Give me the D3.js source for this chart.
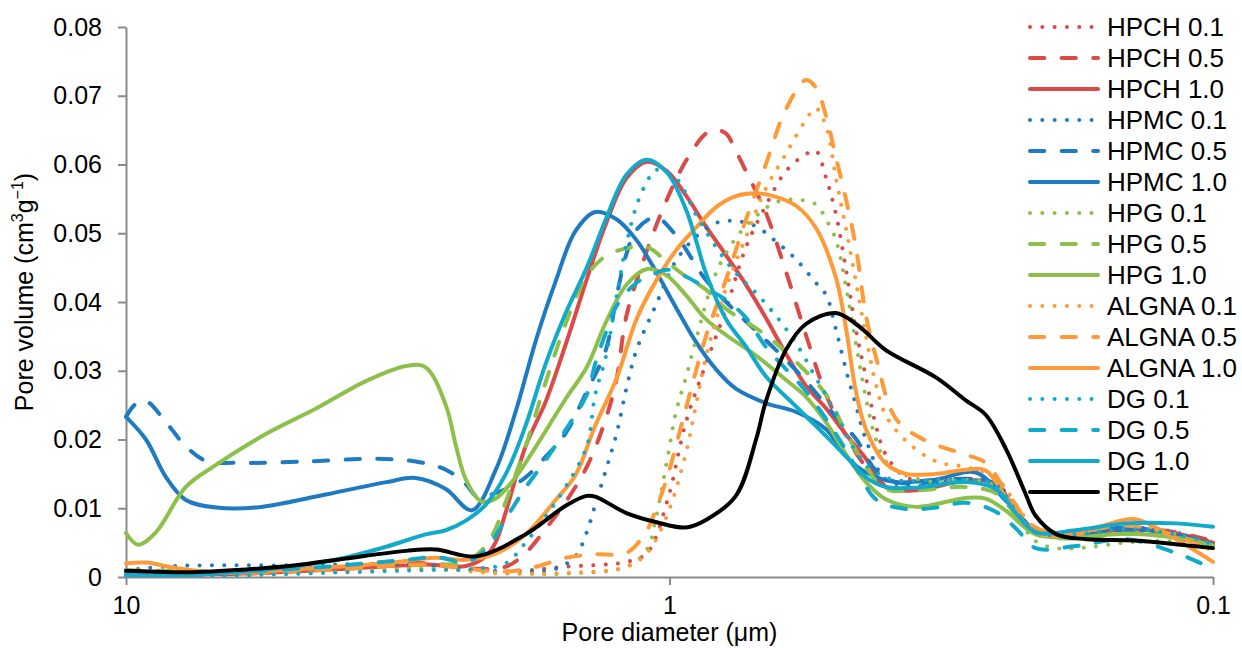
<!DOCTYPE html>
<html>
<head>
<meta charset="utf-8">
<script src="https://cdn.jsdelivr.net/npm/d3@7"></script>
<style>
  body { margin: 0; background: #fff; }
  text { font-family: "Liberation Sans", Arial, sans-serif; fill: #000; }
</style>
</head>
<body>
<div class="chart"></div>
<script>
	// data: [pore diameter (um), pore volume (cm3/g)]
	var seriesNames = ["HPCH 0.1", "HPCH 0.5", "HPCH 1.0", "HPMC 0.1", "HPMC 0.5", "HPMC 1.0",
		"HPG 0.1", "HPG 0.5", "HPG 1.0", "ALGNA 0.1", "ALGNA 0.5", "ALGNA 1.0",
		"DG 0.1", "DG 0.5", "DG 1.0", "REF"];
	var xTicks = [10, 1, 0.1];
	var yTicks = [0, 0.01, 0.02, 0.03, 0.04, 0.05, 0.06, 0.07, 0.08];

	var hpch01 = [[10,0.0005],[6.01,0.0008],[3.94,0.0012],[2.81,0.0015],[2.00,0.0008],[1.55,0.0015],[1.20,0.0022],[1.10,0.0035],[1.01,0.011],[0.933,0.0225],[0.857,0.031],[0.787,0.039],[0.723,0.048],[0.665,0.054],[0.611,0.059],[0.561,0.0615],[0.538,0.062],[0.515,0.058],[0.494,0.0528],[0.473,0.0445],[0.454,0.036],[0.435,0.029],[0.417,0.022],[0.400,0.0178],[0.367,0.0145],[0.323,0.014],[0.285,0.0143],[0.251,0.0138],[0.230,0.0098],[0.212,0.0068],[0.179,0.006],[0.145,0.0072],[0.117,0.0065],[0.1,0.005]];
	var hpch05 = [[10,0.0003],[6.01,0.0005],[3.94,0.0015],[2.81,0.002],[2.27,0.0012],[2.00,0.0015],[1.84,0.0035],[1.69,0.007],[1.55,0.011],[1.42,0.016],[1.31,0.023],[1.25,0.029],[1.20,0.038],[1.10,0.0475],[1.01,0.055],[0.933,0.0605],[0.857,0.0645],[0.821,0.065],[0.787,0.0645],[0.755,0.062],[0.723,0.059],[0.665,0.053],[0.611,0.0445],[0.561,0.0352],[0.515,0.0265],[0.473,0.0205],[0.435,0.016],[0.400,0.0133],[0.352,0.0128],[0.285,0.014],[0.251,0.0135],[0.230,0.0095],[0.212,0.0068],[0.179,0.006],[0.145,0.007],[0.117,0.0065],[0.1,0.0052]];
	var hpch10 = [[10,0.0003],[6.01,0.0005],[3.94,0.0012],[2.81,0.0018],[2.37,0.0016],[2.18,0.003],[2.09,0.005],[2.00,0.0095],[1.84,0.019],[1.69,0.0255],[1.55,0.034],[1.42,0.0433],[1.31,0.0513],[1.20,0.058],[1.10,0.0604],[1.01,0.059],[0.933,0.0555],[0.857,0.051],[0.787,0.0468],[0.723,0.0425],[0.665,0.0377],[0.611,0.0325],[0.561,0.0278],[0.515,0.0245],[0.473,0.0207],[0.435,0.0172],[0.400,0.0131],[0.352,0.0126],[0.285,0.014],[0.251,0.0135],[0.230,0.0095],[0.212,0.0068],[0.179,0.0062],[0.145,0.0069],[0.117,0.0063],[0.1,0.005]];
	var hpmc01 = [[10,0.001],[8.09,0.0016],[4.87,0.0017],[3.05,0.0019],[2.27,0.001],[1.84,0.0008],[1.62,0.0012],[1.49,0.003],[1.42,0.0065],[1.37,0.0105],[1.31,0.0155],[1.25,0.021],[1.20,0.0275],[1.15,0.033],[1.06,0.0395],[0.973,0.046],[0.894,0.0495],[0.821,0.0515],[0.755,0.0518],[0.693,0.051],[0.637,0.0488],[0.585,0.0462],[0.538,0.0428],[0.515,0.041],[0.494,0.036],[0.473,0.030],[0.454,0.025],[0.435,0.020],[0.400,0.0142],[0.352,0.0133],[0.285,0.0142],[0.251,0.0135],[0.230,0.0095],[0.212,0.0065],[0.179,0.006],[0.145,0.0068],[0.117,0.006],[0.1,0.0048]];
	var hpmc05 = [[10,0.0233],[9.59,0.0252],[9.19,0.0256],[8.44,0.0225],[7.76,0.019],[7.13,0.0169],[6.27,0.0166],[4.67,0.0168],[3.47,0.0172],[2.93,0.0168],[2.58,0.0156],[2.37,0.0135],[2.27,0.0118],[2.18,0.0118],[2.00,0.0128],[1.84,0.0145],[1.69,0.0175],[1.55,0.021],[1.42,0.027],[1.31,0.033],[1.25,0.041],[1.20,0.047],[1.15,0.0505],[1.06,0.0523],[0.973,0.0497],[0.857,0.0432],[0.755,0.0386],[0.693,0.0358],[0.611,0.0316],[0.561,0.0285],[0.494,0.0233],[0.454,0.0201],[0.417,0.0155],[0.383,0.0138],[0.352,0.0136],[0.285,0.0143],[0.251,0.0135],[0.230,0.009],[0.212,0.0065],[0.179,0.006],[0.145,0.0065],[0.117,0.0057],[0.1,0.0045]];
	var hpmc10 = [[10,0.0233],[9.19,0.020],[8.44,0.0145],[7.76,0.0112],[6.83,0.0101],[5.77,0.0101],[4.29,0.012],[3.32,0.0138],[2.93,0.0144],[2.58,0.0128],[2.31,0.0097],[2.09,0.0155],[1.92,0.024],[1.76,0.0345],[1.62,0.043],[1.49,0.0503],[1.37,0.0531],[1.25,0.052],[1.15,0.049],[1.06,0.0445],[0.973,0.0392],[0.894,0.0342],[0.821,0.0302],[0.755,0.0274],[0.665,0.0253],[0.585,0.024],[0.515,0.0215],[0.473,0.0175],[0.435,0.0152],[0.383,0.0138],[0.323,0.0142],[0.273,0.0152],[0.240,0.011],[0.212,0.0068],[0.179,0.0064],[0.145,0.0072],[0.117,0.0062],[0.1,0.0047]];
	var hpg01 = [[10,0.0006],[6.01,0.0006],[3.94,0.0008],[2.81,0.0012],[2.00,0.0006],[1.55,0.0005],[1.20,0.0015],[1.10,0.004],[1.06,0.0085],[1.01,0.017],[0.973,0.024],[0.933,0.029],[0.894,0.0345],[0.821,0.0442],[0.755,0.0493],[0.693,0.0525],[0.637,0.0545],[0.585,0.0549],[0.538,0.0542],[0.515,0.052],[0.494,0.049],[0.473,0.042],[0.454,0.034],[0.435,0.026],[0.417,0.020],[0.400,0.0168],[0.367,0.0148],[0.323,0.0138],[0.285,0.0141],[0.251,0.0132],[0.230,0.009],[0.212,0.0052],[0.194,0.0042],[0.171,0.0043],[0.145,0.005],[0.117,0.0052],[0.1,0.0045]];
	var hpg05 = [[10,0.001],[6.01,0.0008],[3.94,0.0015],[2.81,0.0018],[2.37,0.0022],[2.18,0.0045],[2.09,0.007],[2.00,0.011],[1.84,0.019],[1.69,0.0283],[1.55,0.037],[1.42,0.0438],[1.31,0.0467],[1.20,0.0478],[1.10,0.048],[1.01,0.0458],[0.933,0.0437],[0.857,0.0418],[0.787,0.039],[0.665,0.0352],[0.585,0.0313],[0.515,0.0265],[0.473,0.021],[0.435,0.016],[0.400,0.0128],[0.352,0.0126],[0.285,0.0131],[0.251,0.0122],[0.230,0.009],[0.212,0.0063],[0.179,0.0056],[0.145,0.0063],[0.117,0.0058],[0.1,0.0047]];
	var hpg10 = [[10,0.0064],[9.50,0.0047],[8.81,0.0065],[7.76,0.0131],[6.83,0.0163],[5.53,0.0208],[4.47,0.0245],[3.62,0.0285],[3.05,0.0307],[2.81,0.0305],[2.58,0.025],[2.47,0.019],[2.37,0.0142],[2.22,0.011],[2.09,0.0114],[1.92,0.0145],[1.76,0.019],[1.55,0.026],[1.42,0.0305],[1.31,0.037],[1.20,0.0425],[1.10,0.0448],[1.01,0.0438],[0.933,0.041],[0.857,0.0375],[0.787,0.0352],[0.693,0.0322],[0.611,0.0287],[0.561,0.0262],[0.515,0.0225],[0.473,0.0178],[0.435,0.0138],[0.400,0.0113],[0.352,0.0102],[0.285,0.0115],[0.262,0.0114],[0.240,0.0096],[0.212,0.0062],[0.179,0.0058],[0.145,0.0063],[0.117,0.0057],[0.1,0.0046]];
	var algna01 = [[10,0.001],[6.01,0.0004],[3.94,0.0008],[2.81,0.0012],[2.00,0.0005],[1.55,0.0006],[1.20,0.0015],[1.10,0.0035],[1.01,0.009],[0.933,0.018],[0.894,0.025],[0.857,0.032],[0.787,0.042],[0.723,0.0495],[0.665,0.0565],[0.611,0.0615],[0.561,0.0665],[0.538,0.0682],[0.515,0.0655],[0.494,0.058],[0.473,0.0505],[0.454,0.043],[0.435,0.035],[0.417,0.028],[0.400,0.0235],[0.367,0.0198],[0.323,0.0168],[0.285,0.016],[0.251,0.0145],[0.230,0.0105],[0.212,0.007],[0.179,0.0065],[0.145,0.0078],[0.117,0.0062],[0.1,0.0038]];
	var algna05 = [[10,0.0008],[6.01,0.0006],[3.94,0.0012],[2.81,0.0018],[2.00,0.0008],[1.76,0.0015],[1.55,0.0028],[1.37,0.0033],[1.20,0.0035],[1.10,0.0068],[1.06,0.0098],[1.01,0.0145],[0.933,0.0245],[0.857,0.035],[0.787,0.0433],[0.723,0.052],[0.665,0.060],[0.611,0.068],[0.561,0.0723],[0.538,0.0712],[0.515,0.067],[0.494,0.061],[0.473,0.0548],[0.454,0.048],[0.435,0.038],[0.417,0.032],[0.383,0.023],[0.337,0.0198],[0.285,0.0178],[0.262,0.0166],[0.240,0.0125],[0.212,0.0072],[0.179,0.0065],[0.145,0.0075],[0.117,0.006],[0.1,0.0035]];
	var algna10 = [[10,0.002],[9.19,0.0021],[8.09,0.0013],[6.55,0.0006],[4.67,0.0012],[3.32,0.002],[2.69,0.0028],[2.37,0.0025],[2.09,0.0034],[1.84,0.0062],[1.62,0.0112],[1.49,0.0148],[1.37,0.022],[1.25,0.029],[1.15,0.0375],[1.06,0.043],[0.973,0.0475],[0.894,0.0508],[0.821,0.0538],[0.755,0.0554],[0.693,0.0558],[0.637,0.0553],[0.585,0.054],[0.538,0.0508],[0.494,0.0435],[0.473,0.036],[0.454,0.027],[0.435,0.0215],[0.400,0.0165],[0.367,0.015],[0.323,0.015],[0.285,0.0156],[0.262,0.0155],[0.240,0.0115],[0.212,0.0065],[0.179,0.0062],[0.157,0.0076],[0.139,0.0084],[0.117,0.0055],[0.1,0.0022]];
	var dg01 = [[10,0.0002],[6.55,0.0002],[4.29,0.0006],[2.81,0.001],[2.27,0.0012],[2.00,0.002],[1.84,0.005],[1.69,0.0088],[1.55,0.0132],[1.42,0.019],[1.37,0.0265],[1.31,0.032],[1.25,0.041],[1.20,0.0485],[1.15,0.054],[1.10,0.0575],[1.06,0.0592],[0.973,0.058],[0.894,0.0527],[0.821,0.048],[0.755,0.0442],[0.693,0.0413],[0.637,0.038],[0.585,0.034],[0.538,0.029],[0.494,0.0238],[0.454,0.0182],[0.417,0.0152],[0.383,0.0141],[0.285,0.0142],[0.251,0.0134],[0.230,0.0095],[0.212,0.0065],[0.179,0.0062],[0.145,0.007],[0.117,0.0062],[0.1,0.0048]];
	var dg05 = [[10,0.0005],[6.55,0.0007],[4.29,0.0015],[3.05,0.0025],[2.69,0.0029],[2.37,0.0022],[2.18,0.004],[2.00,0.0085],[1.84,0.013],[1.69,0.017],[1.55,0.0215],[1.42,0.0265],[1.37,0.031],[1.31,0.0355],[1.25,0.0395],[1.15,0.0428],[1.06,0.0442],[1.01,0.0447],[0.933,0.0437],[0.857,0.042],[0.787,0.0403],[0.723,0.0377],[0.665,0.0335],[0.561,0.027],[0.494,0.0208],[0.454,0.016],[0.417,0.0113],[0.367,0.0099],[0.323,0.0101],[0.285,0.0108],[0.251,0.0095],[0.230,0.007],[0.212,0.0042],[0.179,0.0045],[0.145,0.0055],[0.117,0.0035],[0.1,0.0012]];
	var dg10 = [[10,0.0003],[8.09,0.0002],[6.55,0.0006],[5.08,0.0014],[4.11,0.0025],[3.32,0.0044],[2.81,0.0062],[2.58,0.0068],[2.37,0.0082],[2.18,0.0105],[2.00,0.015],[1.84,0.022],[1.69,0.031],[1.55,0.0385],[1.42,0.045],[1.31,0.052],[1.20,0.0585],[1.10,0.0607],[1.01,0.0588],[0.933,0.0535],[0.894,0.049],[0.857,0.0442],[0.787,0.0375],[0.723,0.0335],[0.665,0.0292],[0.585,0.0248],[0.515,0.0205],[0.473,0.0175],[0.435,0.0145],[0.400,0.0131],[0.352,0.013],[0.285,0.0138],[0.251,0.0128],[0.230,0.0092],[0.212,0.0065],[0.179,0.0068],[0.145,0.0078],[0.117,0.0078],[0.1,0.0073]];
	var ref = [[10,0.0009],[7.76,0.0007],[6.01,0.0011],[4.87,0.0017],[3.94,0.0027],[3.05,0.0038],[2.69,0.004],[2.27,0.003],[1.84,0.0062],[1.55,0.0104],[1.42,0.0118],[1.37,0.0117],[1.20,0.0093],[1.06,0.008],[0.933,0.0072],[0.857,0.0083],[0.755,0.0118],[0.693,0.020],[0.665,0.0255],[0.611,0.033],[0.561,0.0368],[0.494,0.0384],[0.454,0.0368],[0.435,0.0356],[0.400,0.033],[0.323,0.029],[0.285,0.0257],[0.262,0.0236],[0.240,0.0185],[0.221,0.012],[0.212,0.0089],[0.194,0.0062],[0.171,0.0055],[0.139,0.0053],[0.112,0.0046],[0.1,0.0042]];

	var seriesData = [hpch01, hpch05, hpch10, hpmc01, hpmc05, hpmc10, hpg01, hpg05, hpg10,
		algna01, algna05, algna10, dg01, dg05, dg10, ref];

	// styles
	var colors = ["#DC4A47", "#DC4A47", "#DC4A47", "#1F7BC1", "#1F7BC1", "#1F7BC1",
		"#8CC04B", "#8CC04B", "#8CC04B", "#FF9A38", "#FF9A38", "#FF9A38",
		"#12AACA", "#12AACA", "#12AACA", "#000000"];
	var dashes = ["0.01 12.3", "14.3 17.3", null, "0.01 12.3", "14.3 17.3", null,
		"0.01 12.3", "14.3 17.3", null, "0.01 12.3", "14.3 17.3", null,
		"0.01 12.3", "14.3 17.3", null, null];

	var width = 1242, height = 648;
	var margin = { left: 126, right: 29, top: 27, bottom: 71 },
		plotW = width - margin.left - margin.right,
		plotH = height - margin.top - margin.bottom;

	var svg = d3.select(".chart")
		.append("svg")
			.attr("width", width)
			.attr("height", height)
		.append("g")
			.attr("transform", "translate(" + margin.left + "," + margin.top + ")");

	svg.append("clipPath")
		.attr("id", "plotclip")
		.append("rect")
			.attr("x", -2)
			.attr("y", -2)
			.attr("width", plotW + 4)
			.attr("height", plotH + 2);

	var x = d3.scaleLog().domain([10, 0.1]).range([0, plotW]);
	var y = d3.scaleLinear().domain([0, 0.08]).range([plotH, 0]);

	// y axis
	var yAxis = svg.append("g")
		.attr("class", "y axis")
		.call(d3.axisLeft(y).tickValues(yTicks).tickSize(8).tickSizeOuter(0).tickPadding(16)
			.tickFormat(function(d) { return d === 0 ? "0" : d3.format(".2f")(d); }));
	// x axis
	var xAxis = svg.append("g")
		.attr("class", "x axis")
		.attr("transform", "translate(0," + plotH + ")")
		.call(d3.axisBottom(x).tickValues(xTicks).tickSize(8).tickSizeOuter(0).tickPadding(11)
			.tickFormat(function(d) { return String(d); }));

	svg.selectAll(".axis path, .axis line")
		.attr("stroke", "#8a8a8a")
		.attr("stroke-width", 2);
	svg.selectAll(".axis text")
		.attr("font-size", "25px")
		.attr("font-family", "Liberation Sans, Arial, sans-serif")
		.attr("fill", "#000");

	// axis titles
	svg.append("text")
		.attr("x", plotW / 2)
		.attr("y", plotH + 64)
		.attr("font-size", "25px")
		.attr("text-anchor", "middle")
		.text("Pore diameter (\u03bcm)");

	var yLabel = svg.append("text")
		.attr("transform", "translate(" + (33 - margin.left) + "," + (292 - margin.top) + ") rotate(-90)")
		.attr("font-size", "25px")
		.attr("text-anchor", "middle");
	yLabel.append("tspan").text("Pore volume (cm");
	yLabel.append("tspan").attr("font-size", "16px").attr("dy", -10).text("3");
	yLabel.append("tspan").attr("dy", 10).text("g");
	yLabel.append("tspan").attr("font-size", "16px").attr("dy", -10).text("\u22121");
	yLabel.append("tspan").attr("dy", 10).text(")");

	// lines
	var line = d3.line()
		.x(function(d) { return x(d[0]); })
		.y(function(d) { return y(d[1]); })
		.curve(d3.curveCatmullRom.alpha(0.5));

	var lines = svg.append("g").attr("clip-path", "url(#plotclip)");

	seriesData.forEach(function(data, i) {
		lines.append("path")
			.datum(data)
			.attr("fill", "none")
			.attr("stroke", colors[i])
			.attr("stroke-width", 4)
			.attr("stroke-linecap", "round")
			.attr("stroke-linejoin", "round")
			.attr("stroke-dasharray", dashes[i])
			.attr("d", line);
	});

	// legend
	var legend = svg.append("g")
		.attr("transform", "translate(" + (1028 - margin.left) + ",0)");

	seriesNames.forEach(function(name, i) {
		var legendRow = legend.append("g")
			.attr("transform", "translate(0," + (i * 31) + ")");

		legendRow.append("line")
			.attr("x1", 2)
			.attr("x2", 70)
			.attr("y1", 0)
			.attr("y2", 0)
			.attr("stroke", colors[i])
			.attr("stroke-width", 4)
			.attr("stroke-linecap", "round")
			.attr("stroke-dasharray", dashes[i]);

		legendRow.append("text")
			.attr("x", 79)
			.attr("y", 0)
			.attr("dy", "0.36em")
			.attr("font-size", "26px")
			.text(name);
	});
</script>
</body>
</html>
